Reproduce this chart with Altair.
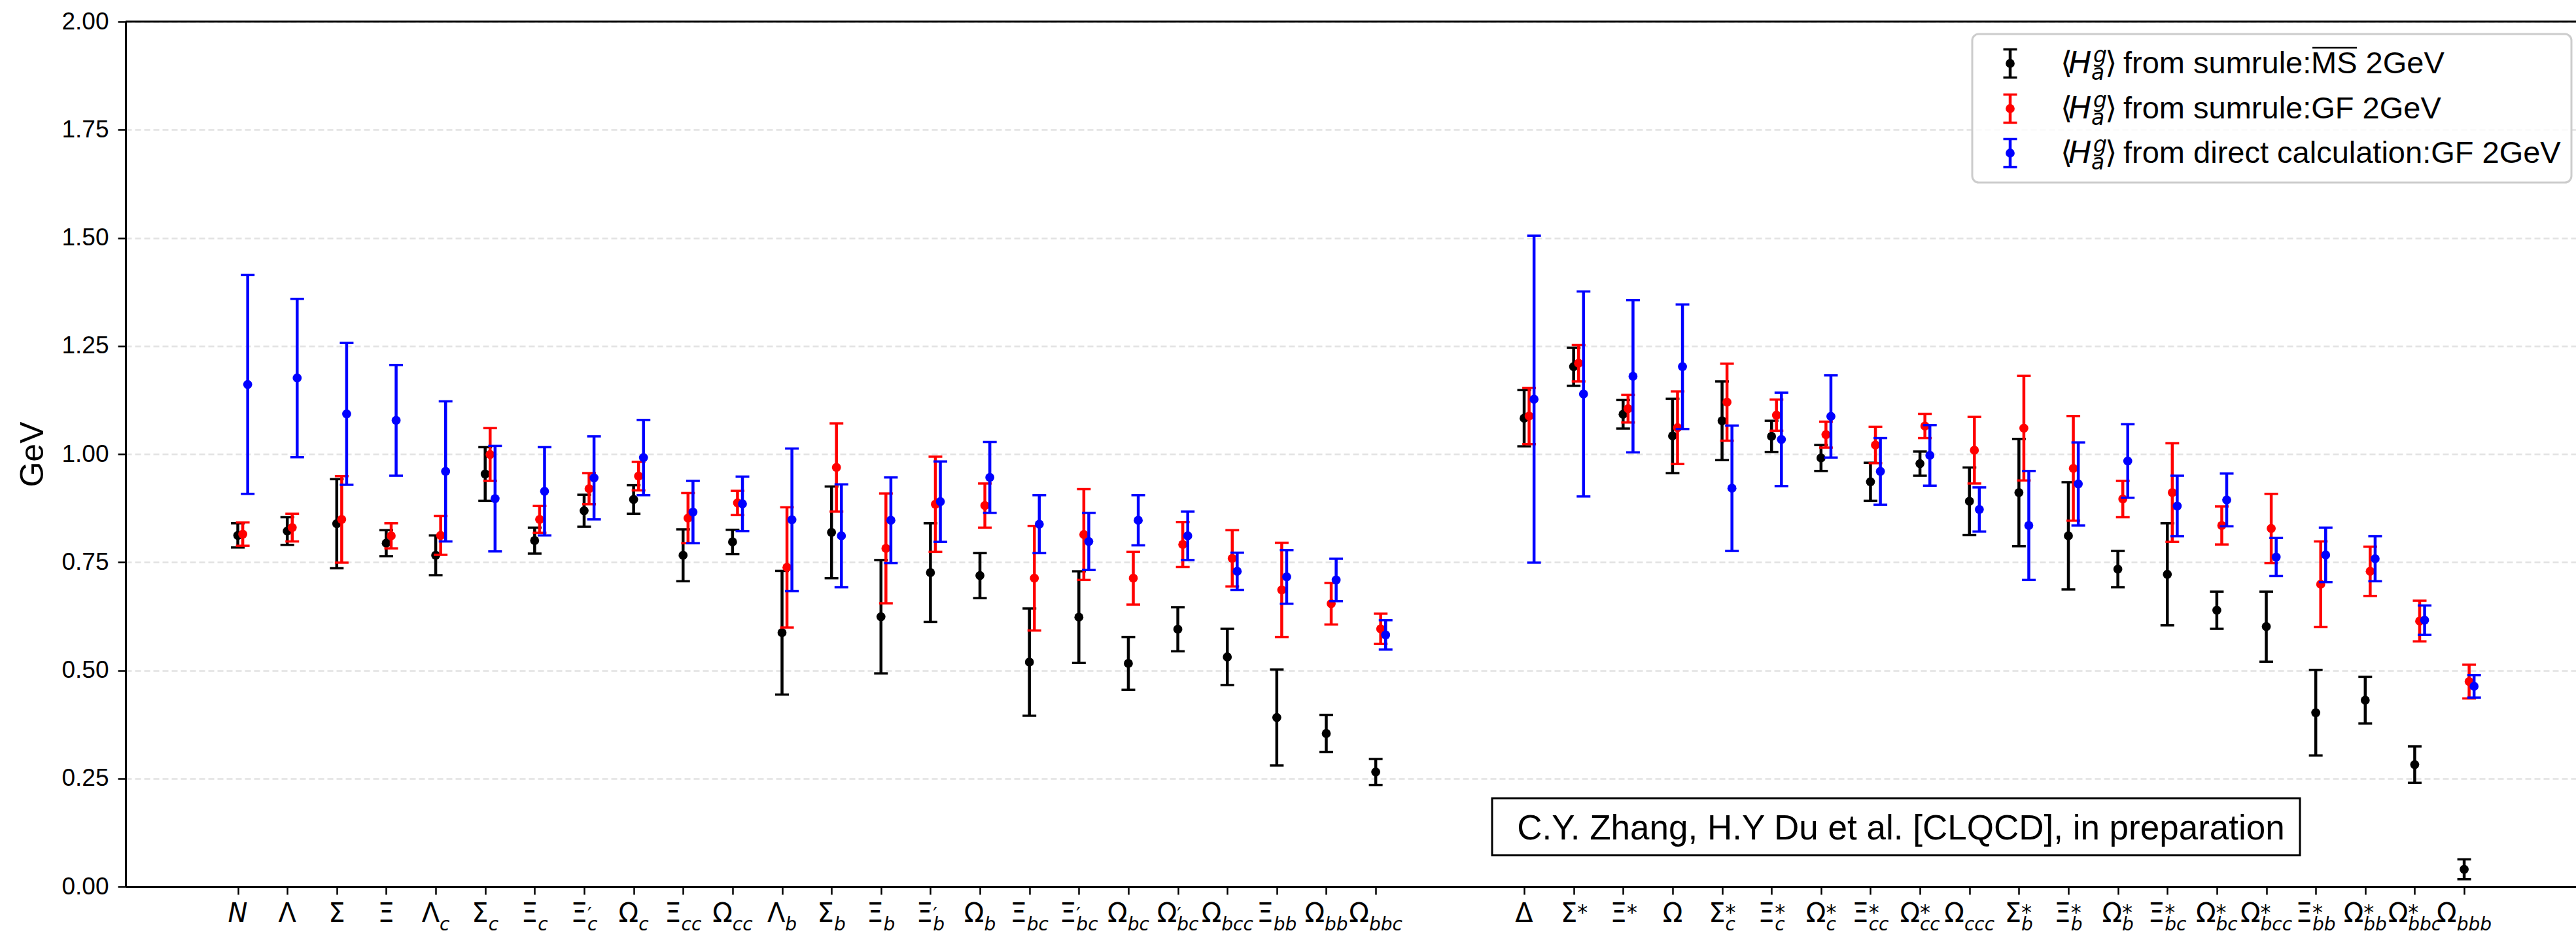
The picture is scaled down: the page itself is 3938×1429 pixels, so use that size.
import altair as alt
import pandas as pd

# ---------------------------------------------------------------- categories
# baryon symbol = base glyph + subscript (quark content) + superscript
bases = ["N", "Λ", "Σ", "Ξ", "Λ", "Σ", "Ξ", "Ξ", "Ω", "Ξ", "Ω", "Λ", "Σ", "Ξ", "Ξ", "Ω",
         "Ξ", "Ξ", "Ω", "Ω", "Ω", "Ξ", "Ω", "Ω",
         "Δ", "Σ", "Ξ", "Ω", "Σ", "Ξ", "Ω", "Ξ", "Ω", "Ω", "Σ", "Ξ", "Ω", "Ξ", "Ω", "Ω",
         "Ξ", "Ω", "Ω", "Ω"]
subs = ["", "", "", "", "c", "c", "c", "c", "c", "cc", "cc", "b", "b", "b", "b", "b",
        "bc", "bc", "bc", "bc", "bcc", "bb", "bb", "bbc",
        "", "", "", "", "c", "c", "c", "cc", "cc", "ccc", "b", "b", "b", "bc", "bc", "bcc",
        "bb", "bb", "bbc", "bbb"]
sups = ["", "", "", "", "", "", "", "′", "", "", "", "", "", "", "′", "",
        "", "′", "", "′", "", "", "", "",
        "", "*", "*", "", "*", "*", "*", "*", "*", "", "*", "*", "*", "*", "*", "*",
        "*", "*", "*", ""]
# octet-like states on the left, decuplet-like states on the right
positions = list(range(24)) + list(range(26, 46))

# ---------------------------------------------------------------- values (GeV)
ms_val = [0.812, 0.822, 0.839, 0.794, 0.766, 0.954, 0.800, 0.869, 0.895, 0.766, 0.797, 0.587,
          0.819, 0.624, 0.726, 0.719, 0.519, 0.623, 0.516, 0.595, 0.531, 0.391, 0.354, 0.265,
          1.083, 1.202, 1.092, 1.042, 1.077, 1.041, 0.991, 0.936, 0.978, 0.891, 0.911, 0.811,
          0.734, 0.722, 0.639, 0.601, 0.402, 0.431, 0.282, 0.040]
ms_err = [0.028, 0.032, 0.103, 0.030, 0.046, 0.062, 0.030, 0.037, 0.033, 0.060, 0.028, 0.143,
          0.106, 0.131, 0.114, 0.052, 0.124, 0.106, 0.061, 0.051, 0.065, 0.111, 0.043, 0.030,
          0.065, 0.044, 0.033, 0.086, 0.091, 0.036, 0.030, 0.044, 0.028, 0.078, 0.124, 0.124,
          0.042, 0.118, 0.043, 0.081, 0.099, 0.054, 0.042, 0.023]

gf_val = [0.815, 0.830, 0.849, 0.811, 0.812, 0.999, 0.849, 0.920, 0.949, 0.852, 0.887, 0.738,
          0.969, 0.782, 0.884, 0.881, 0.713, 0.814, 0.713, 0.791, 0.759, 0.686, 0.654, 0.596,
          1.088, 1.210, 1.105, 1.061, 1.120, 1.090, 1.045, 1.021, 1.065, 1.009, 1.060, 0.967,
          0.896, 0.911, 0.835, 0.828, 0.699, 0.729, 0.614, 0.474]
gf_err = [0.027, 0.032, 0.100, 0.029, 0.045, 0.061, 0.031, 0.036, 0.033, 0.058, 0.028, 0.139,
          0.102, 0.127, 0.110, 0.051, 0.121, 0.105, 0.061, 0.052, 0.065, 0.109, 0.048, 0.035,
          0.065, 0.042, 0.032, 0.084, 0.089, 0.036, 0.030, 0.042, 0.028, 0.077, 0.121, 0.121,
          0.042, 0.114, 0.044, 0.080, 0.099, 0.057, 0.047, 0.039]

dir_val = [1.161, 1.176, 1.093, 1.078, 0.960, 0.897, 0.914, 0.945, 0.992, 0.866, 0.885, 0.848,
           0.811, 0.847, 0.890, 0.946, 0.838, 0.798, 0.847, 0.811, 0.729, 0.716, 0.709, 0.582,
           1.127, 1.139, 1.180, 1.202, 0.921, 1.034, 1.087, 0.960, 0.997, 0.872, 0.835, 0.931,
           0.984, 0.880, 0.894, 0.762, 0.767, 0.758, 0.616, 0.463]
dir_err = [0.253, 0.183, 0.164, 0.128, 0.162, 0.122, 0.102, 0.096, 0.087, 0.072, 0.063, 0.165,
           0.119, 0.099, 0.093, 0.082, 0.067, 0.066, 0.058, 0.056, 0.043, 0.062, 0.049, 0.034,
           0.378, 0.237, 0.176, 0.144, 0.145, 0.108, 0.095, 0.077, 0.070, 0.051, 0.126, 0.096,
           0.085, 0.070, 0.061, 0.044, 0.063, 0.052, 0.034, 0.026]

series = [
    # key, colour, horizontal shift in category units, values, errors
    ("sumrule_MSbar", "#000000", 0.0, ms_val, ms_err),
    ("sumrule_GF", "#ff0000", 0.1, gf_val, gf_err),
    ("direct_GF", "#0000ff", 0.2, dir_val, dir_err),
]

# ---------------------------------------------------------------- layout
OX, OY = 192, 33                 # plot origin inside the page
PLOT_W, PLOT_H = 3746, 1322
X_MIN, X_MAX = -2.268, 47.26
PX_PER_UNIT = PLOT_W / (X_MAX - X_MIN)
DOT = 190

x_scale = alt.Scale(domain=[X_MIN, X_MAX], nice=False, zero=False)
x_axis = alt.Axis(values=positions, labels=False, ticks=True, tickSize=12, tickWidth=2.5,
                  tickColor="black", domain=True, domainColor="black", domainWidth=3,
                  grid=False, title=None)
y_scale = alt.Scale(domain=[0, 2], nice=False, zero=False)
y_axis = alt.Axis(values=[i * 0.25 for i in range(9)], format=".2f",
                  labelFont="Liberation Sans", labelFontSize=37, labelColor="black",
                  labelPadding=14, tickSize=12, tickWidth=2.5, tickColor="black",
                  domainColor="black", domainWidth=3,
                  grid=True, gridColor="#e2e2e2", gridWidth=2.5, gridDash=[9, 5],
                  title="GeV", titleFont="Liberation Sans", titleFontSize=50,
                  titleFontWeight="normal", titleColor="black", titlePadding=18)


def X(field):
    return alt.X(f"{field}:Q", scale=x_scale, axis=x_axis, title=None)


def Y(field):
    return alt.Y(f"{field}:Q", scale=y_scale, axis=y_axis, title="GeV")


layers = []

# top spine
layers.append(alt.Chart(pd.DataFrame({"top": [2.0]})).mark_rule(
    color="black", strokeWidth=3).encode(y=Y("top")))

# ---------------------------------------------------------------- error bars
for key, color, shift, vals, errs in series:
    df = pd.DataFrame({
        "x": [p + shift for p in positions],
        "val": vals,
        "lo": [v - e for v, e in zip(vals, errs)],
        "hi": [v + e for v, e in zip(vals, errs)],
    })
    base = alt.Chart(df)
    layers.append(base.mark_rule(color=color, strokeWidth=4.5).encode(
        x=X("x"), y=Y("lo"), y2="hi:Q"))
    for end in ("lo", "hi"):
        layers.append(base.mark_tick(color=color, orient="horizontal", size=21,
                                     thickness=3.5, opacity=1).encode(x=X("x"), y=Y(end)))
    layers.append(base.mark_circle(color=color, size=DOT, opacity=1).encode(
        x=X("x"), y=Y("val")))

# ---------------------------------------------------------------- category labels
BASE_PX, SCRIPT_PX = 40, 28
LABEL_BASELINE = 1409
glyph_em = {"N": 0.748, "Λ": 0.685, "Σ": 0.632, "Ξ": 0.632, "Ω": 0.764, "Δ": 0.685,
            "b": 0.635, "c": 0.55, "′": 0.30, "*": 0.50}


def script_width(sub, sup):
    return max(sum(glyph_em[c] for c in sub), sum(glyph_em[c] for c in sup)) * SCRIPT_PX


anchors = []
for p, b, sb, sp in zip(positions, bases, subs, sups):
    wb = glyph_em[b] * BASE_PX
    ws = script_width(sb, sp)
    anchors.append(p + (wb - ws) / 2 / PX_PER_UNIT)

lab = pd.DataFrame({"anchor": anchors, "base": bases, "sub": subs, "sup": sups,
                    "latin": [b == "N" for b in bases]})
lab_chart = alt.Chart(lab)
layers.append(lab_chart.transform_filter("!datum.latin").mark_text(
    font="DejaVu Sans", fontSize=BASE_PX, align="right", baseline="alphabetic",
    color="black").encode(x=X("anchor"), y=alt.value(LABEL_BASELINE - OY), text="base:N"))
layers.append(lab_chart.transform_filter("datum.latin").mark_text(
    font="DejaVu Sans", fontSize=BASE_PX, fontStyle="italic", align="right",
    baseline="alphabetic", color="black").encode(
    x=X("anchor"), y=alt.value(LABEL_BASELINE - OY), text="base:N"))
layers.append(lab_chart.transform_filter("datum.sub != ''").mark_text(
    font="DejaVu Sans", fontSize=SCRIPT_PX, fontStyle="italic", align="left",
    baseline="alphabetic", color="black").encode(
    x=X("anchor"), y=alt.value(LABEL_BASELINE + 13 - OY), text="sub:N"))
layers.append(lab_chart.transform_filter("datum.sup == '*'").mark_text(
    font="DejaVu Sans", fontSize=32, align="left", baseline="alphabetic",
    color="black").encode(x=X("anchor"), y=alt.value(LABEL_BASELINE - 4 - OY), text="sup:N"))
layers.append(lab_chart.transform_filter("datum.sup == '′'").mark_text(
    font="DejaVu Sans", fontSize=30, align="left", baseline="alphabetic",
    color="black").encode(x=X("anchor"), y=alt.value(LABEL_BASELINE - 1 - OY), text="sup:N"))

# ---------------------------------------------------------------- credit box
note = alt.Chart(pd.DataFrame({"n": [0]}))
layers.append(note.mark_rect(fill="white", stroke="black", strokeWidth=3).encode(
    x=alt.value(2281 - OX), x2=alt.value(3516 - OX),
    y=alt.value(1220 - OY), y2=alt.value(1307 - OY)))
layers.append(note.mark_text(text="C.Y. Zhang, H.Y Du et al. [CLQCD], in preparation",
                             font="Liberation Sans", fontSize=53, align="center",
                             baseline="alphabetic", color="black").encode(
    x=alt.value(2906 - OX), y=alt.value(1283 - OY)))

# ---------------------------------------------------------------- legend
layers.append(note.mark_rect(fill="white", fillOpacity=0.8, stroke="#cccccc",
                             strokeWidth=3, cornerRadius=10).encode(
    x=alt.value(3015 - OX), x2=alt.value(3931 - OX),
    y=alt.value(52 - OY), y2=alt.value(279 - OY)))

legend_rows = [
    ("#000000", 97, "from sumrule:", "MS 2GeV"),
    ("#ff0000", 166, "from sumrule:GF 2GeV", ""),
    ("#0000ff", 234, "from direct calculation:GF 2GeV", ""),
]
ICON_X, TEXT_X = 3073, 3246
MS_X = 3533          # start of the overlined "MS"
for color, cy, text_a, text_b in legend_rows:
    bl = cy + 15
    layers.append(note.mark_rule(color=color, strokeWidth=4.5).encode(
        x=alt.value(ICON_X - OX), y=alt.value(cy - 21.5 - OY), y2=alt.value(cy + 21.5 - OY)))
    for dy in (-21.5, 21.5):
        layers.append(note.mark_rule(color=color, strokeWidth=3.5).encode(
            x=alt.value(ICON_X - 10.5 - OX), x2=alt.value(ICON_X + 10.5 - OX),
            y=alt.value(cy + dy - OY)))
    layers.append(note.mark_circle(color=color, size=DOT, opacity=1).encode(
        x=alt.value(ICON_X - OX), y=alt.value(cy - OY)))
    # <H_a^g>
    math_parts = [("⟨", 3150, bl, 47, "normal"), ("H", 3162, bl, 47, "italic"),
                  ("g", 3200, bl - 17, 33, "italic"), ("a", 3197, bl + 10, 33, "italic"),
                  ("⟩", 3218, bl, 47, "normal")]
    for t, tx, ty, fs, st in math_parts:
        layers.append(note.mark_text(text=t, font="DejaVu Sans", fontSize=fs, fontStyle=st,
                                     align="left", baseline="alphabetic",
                                     color="black").encode(
            x=alt.value(tx - OX), y=alt.value(ty - OY)))
    layers.append(note.mark_text(text=text_a, font="Liberation Sans", fontSize=47,
                                 align="left", baseline="alphabetic", color="black").encode(
        x=alt.value(TEXT_X - OX), y=alt.value(bl - OY)))
    if text_b:
        layers.append(note.mark_text(text=text_b, font="Liberation Sans", fontSize=47,
                                     align="left", baseline="alphabetic",
                                     color="black").encode(
            x=alt.value(MS_X - OX), y=alt.value(bl - OY)))
        layers.append(note.mark_rule(color="black", strokeWidth=2.5).encode(
            x=alt.value(MS_X + 2 - OX), x2=alt.value(MS_X + 70 - OX),
            y=alt.value(bl - 39 - OY)))

chart = alt.layer(*layers).properties(
    width=PLOT_W, height=PLOT_H,
    autosize=alt.AutoSizeParams(type="none"),
    padding={"left": OX, "top": OY, "right": 0, "bottom": 1429 - OY - PLOT_H},
    background="white",
).configure_view(stroke=None)

chart.save("out.html", embed_options={"renderer": "svg", "actions": False})
